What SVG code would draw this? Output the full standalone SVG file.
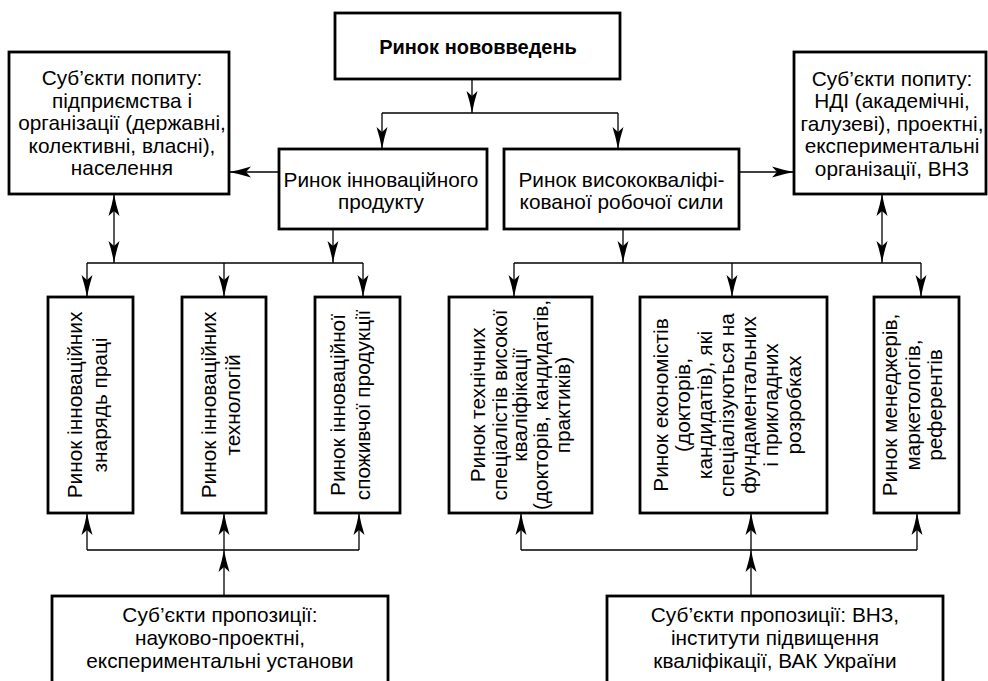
<svg xmlns="http://www.w3.org/2000/svg" width="988" height="681" viewBox="0 0 988 681">
<defs>
<marker id="ah" markerUnits="userSpaceOnUse" markerWidth="24" markerHeight="14" refX="22" refY="7" orient="auto-start-reverse" viewBox="0 0 24 14">
<path d="M0,1.5 Q11,5 22,7 Q11,9 0,12.5 L5,7 Z" fill="#000"/>
</marker>
</defs>
<style>
rect{fill:#fff;stroke:#000;stroke-width:2.8}
text{font-family:"Liberation Sans",Arial,Helvetica,sans-serif;font-size:20.8px;fill:#000;text-anchor:middle}
.b{font-weight:bold;font-size:20px}
#connectors path{fill:none;stroke:#000;stroke-width:1.3}
.a{marker-end:url(#ah)}
.d{marker-end:url(#ah);marker-start:url(#ah)}
</style>
<rect x="0" y="0" width="988" height="681" style="fill:#fff;stroke:none"/>
<g id="connectors">
<path class="a" d="M472,79 V113"/>
<path d="M382,113 H618"/>
<path class="a" d="M382,113 V149"/>
<path class="a" d="M618,113 V149"/>
<path class="a" d="M279,172 H229"/>
<path class="a" d="M739,172 H794"/>
<path class="d" d="M114,194 V263"/>
<path class="a" d="M333,229 V263"/>
<path d="M87,263 H363"/>
<path class="a" d="M87,263 V297"/>
<path class="a" d="M224,263 V297"/>
<path class="a" d="M363,263 V297"/>
<path class="d" d="M882,194 V263"/>
<path class="a" d="M623,229 V263"/>
<path d="M514,263 H921"/>
<path class="a" d="M514,263 V297"/>
<path class="a" d="M732,263 V297"/>
<path class="a" d="M921,263 V297"/>
<path d="M87,550 H359"/>
<path class="a" d="M87,550 V513"/>
<path class="a" d="M224,550 V513"/>
<path class="a" d="M359,550 V513"/>
<path class="a" d="M224,596 V550"/>
<path d="M521,550 H917"/>
<path class="a" d="M521,550 V513"/>
<path class="a" d="M751,550 V513"/>
<path class="a" d="M917,550 V513"/>
<path class="a" d="M751,596 V550"/>
</g>
<g id="top">
<rect x="335" y="13" width="285" height="66"/>
<text class="b" x="478" y="54">Ринок нововведень</text>
</g>
<g id="demand-left">
<rect x="9" y="52" width="220" height="142"/>
<text x="122"><tspan x="122" y="85">Суб’єкти попиту:</tspan><tspan x="122" y="107.5">підприємства і</tspan><tspan x="122" y="130">організації (державні,</tspan><tspan x="122" y="152.5">колективні, власні),</tspan><tspan x="122" y="175">населення</tspan></text>
</g>
<g id="demand-right">
<rect x="794" y="52" width="192" height="142"/>
<text x="892"><tspan x="892" y="85.5">Суб’єкти попиту:</tspan><tspan x="892" y="108">НДІ (академічні,</tspan><tspan x="892" y="130.5">галузеві), проектні,</tspan><tspan x="892" y="153">експериментальні</tspan><tspan x="892" y="175.5">організації, ВНЗ</tspan></text>
</g>
<g id="innov-product">
<rect x="279" y="149" width="208" height="80"/>
<text x="381"><tspan x="381" y="187">Ринок інноваційного</tspan><tspan x="381" y="208.5">продукту</tspan></text>
</g>
<g id="labour">
<rect x="504" y="149" width="235" height="80"/>
<text x="621.5"><tspan x="621.5" y="187">Ринок висококваліфі-</tspan><tspan x="621.5" y="208.5">кованої робочої сили</tspan></text>
</g>
<g id="v1">
<rect x="48" y="297" width="85" height="216"/>
<text transform="translate(91,405) rotate(-90)"><tspan x="0" y="-9">Ринок інноваційних</tspan><tspan x="0" y="16">знарядь праці</tspan></text>
</g>
<g id="v2">
<rect x="182" y="297" width="84" height="216"/>
<text transform="translate(224,405) rotate(-90)"><tspan x="0" y="-8">Ринок інноваційних</tspan><tspan x="0" y="16">технологій</tspan></text>
</g>
<g id="v3">
<rect x="315" y="297" width="85" height="216"/>
<text transform="translate(357.5,405) rotate(-90)"><tspan x="0" y="-12.5">Ринок інноваційної</tspan><tspan x="0" y="12.5">споживчої продукції</tspan></text>
</g>
<g id="v4">
<rect x="449" y="297" width="143" height="216"/>
<text transform="translate(521,405) rotate(-90)"><tspan x="0" y="-36">Ринок технічних</tspan><tspan x="0" y="-14">спеціалістів високої</tspan><tspan x="0" y="6">кваліфікації</tspan><tspan x="0" y="27">(докторів, кандидатів,</tspan><tspan x="0" y="49">практиків)</tspan></text>
</g>
<g id="v5">
<rect x="640" y="297" width="187" height="216"/>
<text transform="translate(733.5,405) rotate(-90)"><tspan x="0" y="-65.5">Ринок економістів</tspan><tspan x="0" y="-43.5">(докторів,</tspan><tspan x="0" y="-21.5">кандидатів), які</tspan><tspan x="0" y="0.5">спеціалізуються на</tspan><tspan x="0" y="22.5">фундаментальних</tspan><tspan x="0" y="44.5">і прикладних</tspan><tspan x="0" y="67.5">розробках</tspan></text>
</g>
<g id="v6">
<rect x="874" y="297" width="85" height="216"/>
<text transform="translate(916.5,405) rotate(-90)"><tspan x="0" y="-19.5">Ринок менеджерів,</tspan><tspan x="0" y="3.5">маркетологів,</tspan><tspan x="0" y="25.5">референтів</tspan></text>
</g>
<g id="supply-left">
<rect x="52" y="596" width="336" height="100"/>
<text x="220"><tspan x="220" y="621.5">Суб’єкти пропозиції:</tspan><tspan x="220" y="645">науково-проектні,</tspan><tspan x="220" y="668">експериментальні установи</tspan></text>
</g>
<g id="supply-right">
<rect x="607" y="596" width="336" height="100"/>
<text x="775"><tspan x="775" y="621.5">Суб’єкти пропозиції: ВНЗ,</tspan><tspan x="775" y="645">інститути підвищення</tspan><tspan x="775" y="668">кваліфікації, ВАК України</tspan></text>
</g>
</svg>
